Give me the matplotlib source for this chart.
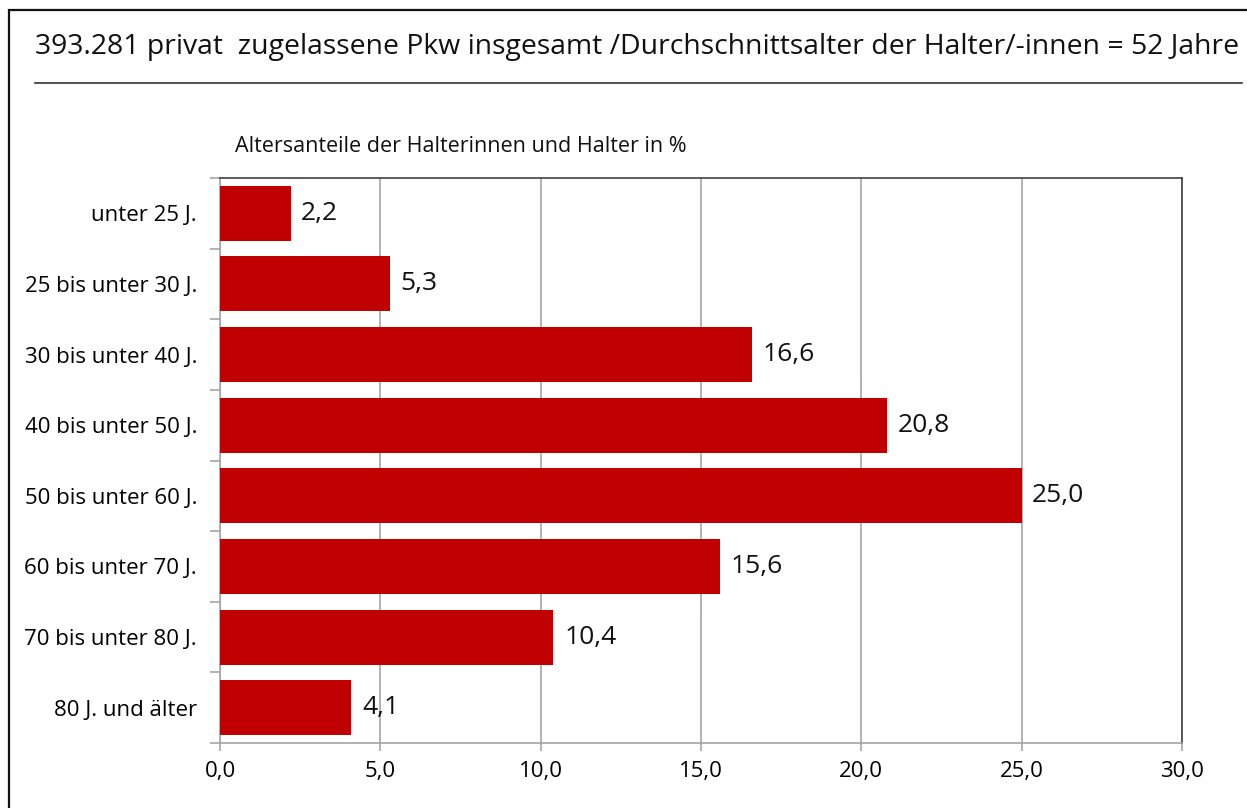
import matplotlib

matplotlib.use("Agg")
import matplotlib.pyplot as plt
from matplotlib.lines import Line2D
from matplotlib.patches import Rectangle
from matplotlib.ticker import FixedLocator, FuncFormatter

plt.rcParams["font.family"] = ["Open Sans", "DejaVu Sans"]

# Daten (Anteile in %)
categories = [
    "unter 25 J.",
    "25 bis unter 30 J.",
    "30 bis unter 40 J.",
    "40 bis unter 50 J.",
    "50 bis unter 60 J.",
    "60 bis unter 70 J.",
    "70 bis unter 80 J.",
    "80 J. und älter",
]
shares = [2.2, 5.3, 16.6, 20.8, 25.0, 15.6, 10.4, 4.1]
x_ticks = [0, 5, 10, 15, 20, 25, 30]

title = "393.281 privat  zugelassene Pkw insgesamt /Durchschnittsalter der Halter/-innen = 52 Jahre"
subtitle = "Altersanteile der Halterinnen und Halter in %"

W, H = 1247, 808
fig = plt.figure(figsize=(W / 100, H / 100), dpi=100)

# Rahmen um die ganze Grafik
fig.patches.append(
    Rectangle((9 / W, -0.05), 1.2, 1 - 10 / H + 0.05, transform=fig.transFigure,
              fill=False, edgecolor="#111111", linewidth=1.6)
)
fig.text(35 / W, 1 - 47 / H, title, fontsize=20.4, va="center", ha="left", color="#111111")
fig.add_artist(Line2D([35 / W, 1242 / W], [1 - 83 / H] * 2, transform=fig.transFigure,
                      color="#333333", linewidth=1.2))
fig.text(235 / W, 1 - 146 / H, subtitle, fontsize=15.5, va="center", ha="left", color="#111111")

ax = fig.add_axes([220 / W, 1 - 743 / H, (1182 - 220) / W, (743 - 178) / H])
y = list(range(len(categories)))
ax.barh(y, shares, height=0.78, color="#C00000", zorder=3)
ax.set_ylim(len(categories) - 0.5, -0.5)
ax.set_xlim(0, 30)

# Werte neben den Balken
for yi, v in zip(y, shares):
    ax.text(v + 0.33, yi, f"{v:.1f}".replace(".", ","), va="center", ha="left",
            fontsize=19, color="#111111")

ax.xaxis.set_major_locator(FixedLocator(x_ticks))
ax.xaxis.set_major_formatter(FuncFormatter(lambda v, _: f"{v:.1f}".replace(".", ",")))
ax.grid(axis="x", color="#A6A6A6", linewidth=1.2, zorder=0)

ax.set_yticks(y)
ax.set_yticklabels(categories)
ax.set_yticks([i - 0.5 for i in range(len(categories) + 1)], minor=True)
ax.tick_params(axis="y", which="major", length=0, pad=16.5, labelsize=16)
ax.tick_params(axis="y", which="minor", length=7, color="#A6A6A6", width=1.2)
ax.tick_params(axis="x", length=6, color="#A6A6A6", width=1.2, pad=7, labelsize=16)

for s in ("left", "bottom"):
    ax.spines[s].set_color("#A6A6A6")
    ax.spines[s].set_linewidth(1.2)
for s in ("top", "right"):
    ax.spines[s].set_color("#404040")
    ax.spines[s].set_linewidth(1.2)

fig.savefig("out.png", dpi=100)
